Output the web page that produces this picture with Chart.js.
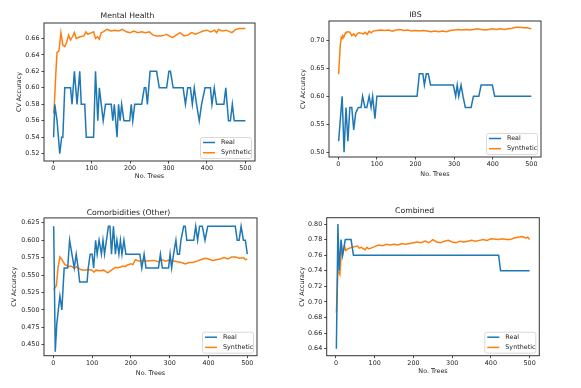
<!DOCTYPE html>
<html><head><meta charset="utf-8">
<script src="https://cdn.jsdelivr.net/npm/chart.js@4.4.0/dist/chart.umd.min.js"></script>
<style>
html,body{margin:0;padding:0;background:#fff;width:581px;height:388px;overflow:hidden}
.q{position:absolute}
canvas{display:block}
</style></head><body>
<div class="q" id="q0"><canvas id="c0"></canvas></div>
<div class="q" id="q1"><canvas id="c1"></canvas></div>
<div class="q" id="q2"><canvas id="c2"></canvas></div>
<div class="q" id="q3"><canvas id="c3"></canvas></div>
<script>
// ---------------- DATA ----------------
const titles = ['Mental Health', 'IBS', 'Comorbidities (Other)', 'Combined'];
const seriesNames = ['Real', 'Synthetic'];
const xAxisLabel = 'No. Trees';
const yAxisLabel = 'CV Accuracy';
const treeTicks = [0, 100, 200, 300, 400, 500];

const mentalYTicks = [0.52, 0.54, 0.56, 0.58, 0.60, 0.62, 0.64, 0.66];
const ibsYTicks = [0.50, 0.55, 0.60, 0.65, 0.70];
const comorbYTicks = [0.450, 0.475, 0.500, 0.525, 0.550, 0.575, 0.600, 0.625];
const combinedYTicks = [0.64, 0.66, 0.68, 0.70, 0.72, 0.74, 0.76, 0.78, 0.80];

const mentalReal = [[1,0.54],[4,0.58],[10,0.56],[17,0.52],[22,0.54],[25,0.54],[30,0.60],[45,0.60],[49,0.58],[55,0.62],[62,0.58],[69,0.62],[73,0.58],[82,0.58],[86,0.54],[105,0.54],[110,0.62],[116,0.56],[120,0.60],[130,0.56],[136,0.58],[151,0.58],[155,0.56],[159,0.58],[166,0.54],[170,0.58],[174,0.56],[178,0.58],[184,0.56],[199,0.56],[203,0.58],[207,0.56],[212,0.58],[230,0.58],[237,0.60],[241,0.60],[245,0.58],[252,0.62],[269,0.62],[276,0.60],[295,0.60],[301,0.62],[305,0.62],[312,0.60],[338,0.60],[344,0.58],[350,0.60],[357,0.60],[362,0.58],[367,0.60],[373,0.58],[380,0.56],[386,0.58],[395,0.60],[409,0.60],[413,0.58],[419,0.60],[425,0.58],[444,0.58],[449,0.60],[456,0.56],[461,0.56],[466,0.58],[471,0.56],[500,0.56]];
const mentalSynth = [[1,0.569],[3,0.58],[7,0.62],[10,0.643],[15,0.645],[20,0.667],[25,0.652],[30,0.650],[35,0.655],[40,0.664],[45,0.658],[50,0.662],[55,0.667],[60,0.660],[70,0.662],[80,0.663],[85,0.668],[90,0.665],[100,0.667],[105,0.668],[110,0.660],[115,0.662],[120,0.659],[125,0.667],[130,0.668],[140,0.671],[150,0.669],[160,0.670],[170,0.669],[180,0.671],[190,0.668],[200,0.667],[210,0.669],[220,0.667],[230,0.668],[240,0.667],[250,0.668],[260,0.664],[270,0.663],[280,0.663],[290,0.664],[295,0.665],[310,0.661],[320,0.664],[330,0.667],[340,0.663],[350,0.664],[360,0.667],[370,0.665],[380,0.667],[390,0.669],[400,0.670],[410,0.668],[420,0.670],[425,0.667],[430,0.671],[440,0.669],[450,0.670],[460,0.668],[465,0.667],[475,0.671],[485,0.672],[500,0.672]];

const ibsReal = [[1,0.52],[10,0.60],[15,0.50],[20,0.58],[25,0.52],[30,0.58],[35,0.58],[40,0.54],[45,0.57],[52,0.58],[59,0.58],[63,0.60],[69,0.58],[74,0.58],[80,0.60],[85,0.58],[89,0.60],[92,0.58],[95,0.56],[100,0.60],[204,0.60],[210,0.64],[219,0.64],[223,0.62],[228,0.64],[233,0.64],[239,0.62],[298,0.62],[304,0.60],[308,0.62],[312,0.60],[318,0.62],[323,0.60],[329,0.58],[344,0.58],[350,0.60],[364,0.60],[370,0.62],[399,0.62],[405,0.60],[500,0.60]];
const ibsSynth = [[1,0.639],[5,0.69],[8,0.705],[10,0.703],[12,0.708],[15,0.706],[18,0.712],[20,0.714],[25,0.715],[30,0.714],[35,0.708],[40,0.711],[45,0.707],[50,0.712],[55,0.713],[60,0.712],[65,0.711],[70,0.714],[75,0.710],[80,0.716],[85,0.713],[90,0.716],[100,0.717],[110,0.718],[120,0.717],[130,0.718],[140,0.716],[150,0.718],[160,0.719],[170,0.717],[180,0.718],[190,0.716],[200,0.717],[210,0.716],[220,0.717],[230,0.716],[240,0.715],[250,0.716],[260,0.715],[270,0.716],[280,0.715],[290,0.717],[300,0.718],[310,0.719],[320,0.718],[330,0.719],[340,0.718],[350,0.719],[360,0.720],[370,0.719],[380,0.718],[390,0.719],[400,0.720],[410,0.719],[420,0.720],[430,0.719],[440,0.720],[450,0.721],[460,0.723],[470,0.723],[480,0.722],[490,0.722],[500,0.720]];

const comorbReal = [[1,0.62],[5,0.44],[9,0.48],[17,0.52],[22,0.50],[28,0.56],[37,0.56],[42,0.60],[48,0.58],[54,0.56],[59,0.58],[64,0.56],[68,0.54],[87,0.54],[90,0.56],[95,0.58],[100,0.58],[104,0.56],[109,0.60],[113,0.58],[118,0.60],[124,0.58],[128,0.60],[132,0.58],[137,0.60],[142,0.62],[146,0.62],[150,0.58],[155,0.62],[160,0.58],[164,0.60],[169,0.58],[173,0.60],[177,0.58],[182,0.60],[187,0.58],[223,0.58],[228,0.56],[234,0.58],[239,0.56],[271,0.56],[276,0.58],[281,0.56],[297,0.56],[301,0.58],[305,0.56],[310,0.58],[316,0.60],[320,0.58],[325,0.58],[329,0.60],[336,0.62],[340,0.62],[344,0.60],[362,0.60],[367,0.62],[372,0.60],[377,0.62],[384,0.62],[391,0.60],[398,0.62],[469,0.62],[474,0.60],[479,0.60],[484,0.62],[490,0.60],[495,0.60],[500,0.58]];
const comorbSynth = [[1,0.529],[8,0.535],[12,0.560],[17,0.576],[22,0.572],[30,0.565],[40,0.562],[45,0.563],[55,0.560],[60,0.562],[70,0.558],[80,0.557],[90,0.558],[100,0.557],[105,0.554],[110,0.557],[120,0.556],[130,0.557],[140,0.553],[150,0.557],[160,0.561],[165,0.560],[175,0.562],[180,0.563],[185,0.562],[190,0.564],[200,0.566],[205,0.565],[212,0.572],[220,0.570],[240,0.570],[260,0.571],[270,0.569],[280,0.572],[290,0.570],[300,0.572],[310,0.570],[320,0.569],[330,0.568],[340,0.566],[350,0.568],[360,0.568],[370,0.570],[380,0.572],[390,0.574],[400,0.573],[410,0.571],[420,0.572],[430,0.573],[440,0.575],[450,0.573],[460,0.576],[470,0.576],[480,0.574],[490,0.575],[495,0.572],[500,0.573]];

const combinedReal = [[1,0.64],[5,0.80],[8,0.74],[13,0.78],[17,0.76],[24,0.78],[39,0.78],[45,0.76],[420,0.76],[425,0.74],[500,0.74]];
const combinedSynth = [[1,0.686],[5,0.740],[10,0.735],[14,0.765],[18,0.762],[22,0.772],[25,0.766],[30,0.768],[40,0.770],[50,0.771],[55,0.772],[60,0.769],[65,0.770],[75,0.767],[80,0.770],[85,0.768],[90,0.769],[100,0.771],[110,0.773],[120,0.772],[130,0.774],[140,0.773],[150,0.774],[160,0.773],[170,0.775],[180,0.774],[190,0.775],[200,0.776],[210,0.777],[220,0.776],[230,0.778],[240,0.776],[250,0.780],[260,0.777],[270,0.776],[280,0.778],[290,0.779],[300,0.777],[310,0.776],[320,0.778],[330,0.777],[340,0.778],[350,0.779],[360,0.778],[370,0.779],[380,0.780],[390,0.779],[400,0.781],[420,0.780],[430,0.781],[440,0.780],[450,0.780],[460,0.782],[470,0.783],[480,0.784],[485,0.783],[490,0.782],[495,0.783],[500,0.780]];

const xRange = [-24, 525];
const mentalYRange = [0.5112, 0.6787];
const ibsYRange = [0.4917, 0.734];
const comorbYRange = [0.4342, 0.632];
const combinedYRange = [0.631, 0.8081];

// ---------------- LAYOUT / STYLE ----------------
const FONT = "'DejaVu Sans', sans-serif";
const COLORS = ['#1f77b4', '#ff7f0e'];
const TICK_SIZE = 6.4, TITLE_SIZE = 7.7;
const panels = [
  {box:[0,0,290,194],   area:{l:44,r:255,t:23,b:161},     yTitleX:19,   xTitleY:176,   titleY:15.7, real:mentalReal, synth:mentalSynth, yTicks:mentalYTicks, yRange:mentalYRange, dec:2},
  {box:[290,0,291,194], area:{l:39,r:251,t:21,b:157},     yTitleX:13.3, xTitleY:174,   titleY:14.7, real:ibsReal, synth:ibsSynth, yTicks:ibsYTicks, yRange:ibsYRange, dec:2},
  {box:[0,190,290,198], area:{l:44,r:257,t:27.7,b:165.7}, yTitleX:14,   xTitleY:183,   titleY:23.3, real:comorbReal, synth:comorbSynth, yTicks:comorbYTicks, yRange:comorbYRange, dec:3},
  {box:[290,190,291,198], area:{l:36.7,r:249.3,t:27.7,b:165.7}, yTitleX:12.7, xTitleY:181.7, titleY:21.3, real:combinedReal, synth:combinedSynth, yTicks:combinedYTicks, yRange:combinedYRange, dec:2}
];

const framePlugin = {
  id: 'frame',
  afterDraw(chart) {
    const {ctx, chartArea: a} = chart;
    ctx.save();
    ctx.strokeStyle = '#333';
    ctx.lineWidth = 1;
    ctx.strokeRect(a.left, a.top, a.right - a.left, a.bottom - a.top);
    // legend (matplotlib style, lower right)
    const w = 51, h = 21;
    const x = a.right - 4 - w, y = a.bottom - 3 - h;
    ctx.beginPath();
    if (ctx.roundRect) ctx.roundRect(x + 0.5, y + 0.5, w, h, 2); else ctx.rect(x + 0.5, y + 0.5, w, h);
    ctx.fillStyle = 'rgba(255,255,255,0.8)';
    ctx.fill();
    ctx.strokeStyle = '#d0d0d0';
    ctx.lineWidth = 0.8;
    ctx.stroke();
    ctx.font = TICK_SIZE + 'px ' + FONT;
    ctx.textBaseline = 'middle';
    ctx.textAlign = 'left';
    chart.data.datasets.forEach((ds, i) => {
      const cy = y + 5.5 + i * 10.2;
      ctx.strokeStyle = ds.borderColor;
      ctx.lineWidth = 1.5;
      ctx.beginPath();
      ctx.moveTo(x + 3, cy);
      ctx.lineTo(x + 15, cy);
      ctx.stroke();
      ctx.fillStyle = '#222';
      ctx.fillText(ds.label, x + 21, cy);
    });
    ctx.restore();
  }
};

panels.forEach((p, i) => {
  const [bx, by, bw, bh] = p.box;
  const div = document.getElementById('q' + i);
  div.style.left = bx + 'px'; div.style.top = by + 'px';
  div.style.width = bw + 'px'; div.style.height = bh + 'px';
  const cv = document.getElementById('c' + i);
  cv.width = bw; cv.height = bh;
  cv.style.width = bw + 'px'; cv.style.height = bh + 'px';
  const titleLH = TITLE_SIZE * 1.2, lblLH = TICK_SIZE * 1.2;
  new Chart(cv, {
    type: 'line',
    data: {
      datasets: [p.real, p.synth].map((s, k) => ({
        label: seriesNames[k],
        data: s.map(([x, y]) => ({x, y})),
        borderColor: COLORS[k],
        backgroundColor: COLORS[k],
        borderWidth: 1.5,
        pointRadius: 0,
        tension: 0,
        fill: false
      }))
    },
    options: {
      responsive: false,
      animation: false,
      devicePixelRatio: 1,
      events: [],
      layout: {padding: {left: 0, top: 0, bottom: 0, right: bw - p.area.r}},
      plugins: {
        legend: {display: false},
        tooltip: {enabled: false},
        title: {
          display: true, text: titles[i], color: '#222',
          font: {family: FONT, size: TITLE_SIZE, weight: 'normal', lineHeight: 1.2},
          padding: {top: p.titleY - titleLH / 2, bottom: Math.max(0, p.area.t - p.titleY - titleLH / 2)}
        }
      },
      scales: {
        x: {
          type: 'linear', min: xRange[0], max: xRange[1],
          afterBuildTicks: s => { s.ticks = treeTicks.map(v => ({value: v})); },
          afterFit: s => { s.height = bh - p.area.b; },
          ticks: {color: '#222', font: {family: FONT, size: TICK_SIZE}, padding: 1, maxRotation: 0, autoSkip: false,
                  callback: v => String(v)},
          grid: {display: true, drawOnChartArea: false, drawTicks: true, tickLength: 2.5, color: '#333', tickWidth: 0.9},
          border: {display: false},
          title: {display: true, text: xAxisLabel, color: '#222', font: {family: FONT, size: TICK_SIZE, lineHeight: 1.2},
                  padding: {top: 0, bottom: bh - p.xTitleY - lblLH / 2}}
        },
        y: {
          type: 'linear', min: p.yRange[0], max: p.yRange[1],
          afterBuildTicks: s => { s.ticks = p.yTicks.map(v => ({value: v})); },
          afterFit: s => { s.width = p.area.l; },
          ticks: {color: '#222', font: {family: FONT, size: TICK_SIZE}, padding: 2, autoSkip: false,
                  callback: v => Number(v).toFixed(p.dec)},
          grid: {display: true, drawOnChartArea: false, drawTicks: true, tickLength: 2.5, color: '#333', tickWidth: 0.9},
          border: {display: false},
          title: {display: true, text: yAxisLabel, color: '#222', font: {family: FONT, size: TICK_SIZE, lineHeight: 1.2},
                  padding: {top: p.yTitleX - lblLH / 2, bottom: 0}}
        }
      }
    },
    plugins: [framePlugin]
  });
});
</script>
</body></html>
